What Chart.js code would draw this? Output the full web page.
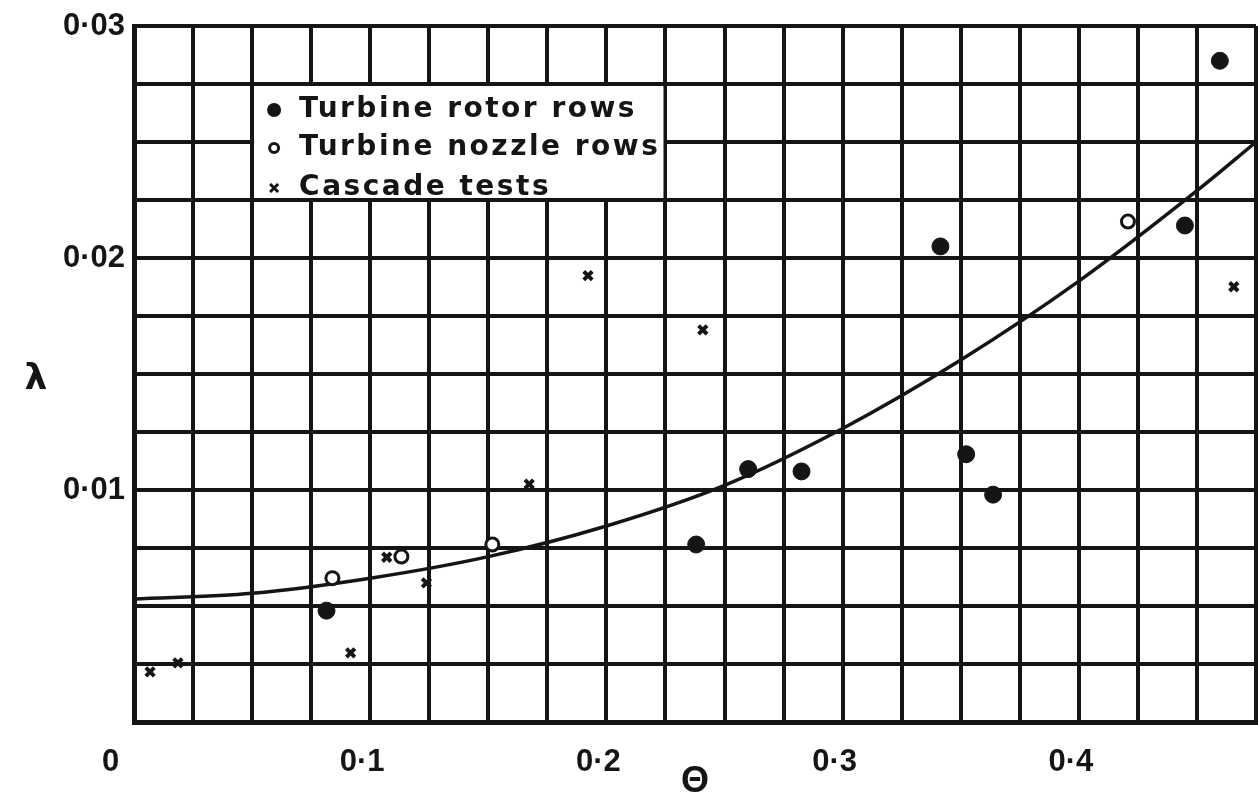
<!DOCTYPE html>
<html>
<head>
<meta charset="utf-8">
<script src="https://cdn.jsdelivr.net/npm/chart.js@4.4.0/dist/chart.umd.min.js"></script>
<style>
    html, body { margin: 0; padding: 0; background: #fff; overflow: hidden; }
    /* a bit wider than the window: chart.js keeps point-radius room on the right */
    #wrap { width: 1266px; height: 799px; position: relative; }
</style>
</head>
<body>
<div id="wrap"><canvas id="myChart"></canvas></div>
<script>
// values
const rotorTheta = [0.0815, 0.238, 0.260, 0.2826, 0.3414, 0.3523, 0.3637, 0.4449, 0.4597];
const rotorLambda = [0.0048, 0.00765, 0.0109, 0.0108, 0.0205, 0.01154, 0.0098, 0.0214, 0.0285];

const nozzleTheta = [0.084, 0.1132, 0.1517, 0.4208];
const nozzleLambda = [0.0062, 0.00713, 0.00765, 0.02157];

const cascadeTheta = [0.0068, 0.0186, 0.0917, 0.107, 0.1238, 0.1673, 0.1922, 0.2408, 0.4656];
const cascadeLambda = [0.00216, 0.00255, 0.00298, 0.0071, 0.0060, 0.01025, 0.01924, 0.0169, 0.01876];

const curveTheta = [0, 0.05, 0.1, 0.15, 0.2, 0.25, 0.3, 0.35, 0.4, 0.45, 0.475];
const curveLambda = [0.0053, 0.00555, 0.0062, 0.00713, 0.00845, 0.0102, 0.01265, 0.0156, 0.0190, 0.0229, 0.0250];

const xLabelValues = [0, 0.1, 0.2, 0.3, 0.4];
const xLabelText = ['0', '0·1', '0·2', '0·3', '0·4'];
const yLabelValues = [0.01, 0.02, 0.03];
const yLabelText = ['0·01', '0·02', '0·03'];

const seriesNames = ['Turbine rotor rows', 'Turbine nozzle rows', 'Cascade tests'];

const ink = '#151515';

function toPoints(xs, ys) {
    return xs.map((x, i) => ({ x: x, y: ys[i] }));
}

function findLabel(v, values, texts) {
    for (let i = 0; i < values.length; i++) {
        if (Math.abs(v - values[i]) < 1e-6) return texts[i];
    }
    return '';
}

// white legend box sitting on the grid
const legendBox = {
    id: 'legendBox',
    beforeDatasetsDraw(chart) {
        const ctx = chart.ctx;
        const xs = chart.scales.x;
        const ys = chart.scales.y;
        let l = xs.getPixelForValue(0.05) + 2;
        let r = xs.getPixelForValue(0.225) - 2;
        let t = ys.getPixelForValue(0.0275) + 2;
        let b = ys.getPixelForValue(0.0225) - 2;

        ctx.save();
        ctx.fillStyle = '#fff';
        ctx.fillRect(l, t, r - l, b - t);

        ctx.font = 'bold 28px "DejaVu Sans"';
        ctx.letterSpacing = '2.5px';
        ctx.fillStyle = ink;
        ctx.strokeStyle = ink;
        ctx.textBaseline = 'middle';
        ctx.textAlign = 'left';

        let rowY = [t + 24, t + 62, t + 102];
        let mx = l + 20;

        // filled dot
        ctx.beginPath();
        ctx.arc(mx, rowY[0], 7, 0, Math.PI * 2);
        ctx.fill();
        // open dot
        ctx.lineWidth = 3;
        ctx.beginPath();
        ctx.arc(mx, rowY[1], 4.5, 0, Math.PI * 2);
        ctx.stroke();
        // cross
        ctx.beginPath();
        ctx.moveTo(mx - 4, rowY[2] - 4);
        ctx.lineTo(mx + 4, rowY[2] + 4);
        ctx.moveTo(mx + 4, rowY[2] - 4);
        ctx.lineTo(mx - 4, rowY[2] + 4);
        ctx.stroke();

        for (let i = 0; i < seriesNames.length; i++) {
            ctx.fillText(seriesNames[i], l + 45, rowY[i]);
        }
        ctx.restore();
    },
    afterDraw(chart) {
        // upright lambda, the library would rotate the y title
        const ctx = chart.ctx;
        const ys = chart.scales.y;
        ctx.save();
        ctx.font = 'bold 36px "DejaVu Sans"';
        ctx.fillStyle = ink;
        ctx.textAlign = 'center';
        ctx.textBaseline = 'middle';
        ctx.fillText('λ', ys.left + 36, (ys.top + ys.bottom) / 2 + 6);
        ctx.restore();
    }
};

const ctx = document.getElementById('myChart');

const lambdaChart = new Chart(ctx, {
    type: 'scatter',
    data: {
        datasets: [
            {
                label: seriesNames[0],
                data: toPoints(rotorTheta, rotorLambda),
                pointStyle: 'circle',
                pointRadius: 8.5,
                backgroundColor: ink,
                borderColor: ink,
                borderWidth: 1
            },
            {
                label: seriesNames[1],
                data: toPoints(nozzleTheta, nozzleLambda),
                pointStyle: 'circle',
                pointRadius: 6.5,
                backgroundColor: '#fff',
                borderColor: ink,
                borderWidth: 3
            },
            {
                label: seriesNames[2],
                data: toPoints(cascadeTheta, cascadeLambda),
                pointStyle: 'crossRot',
                pointRadius: 6,
                borderColor: ink,
                borderWidth: 4
            },
            {
                label: 'curve',
                data: toPoints(curveTheta, curveLambda),
                showLine: true,
                cubicInterpolationMode: 'monotone',
                pointRadius: 0,
                borderColor: ink,
                borderWidth: 3.5,
                fill: false
            }
        ]
    },
    options: {
        responsive: true,
        maintainAspectRatio: false,
        animation: false,
        layout: {
            padding: { top: 26, right: 0, left: 0, bottom: 0 }
        },
        scales: {
            x: {
                type: 'linear',
                min: 0,
                max: 0.475,
                afterFit: function (scale) {
                    scale.height = 77;
                    scale.paddingLeft = 0;
                    scale.paddingRight = 0;
                },
                grid: {
                    color: ink,
                    lineWidth: 4,
                    drawTicks: false
                },
                border: { display: true, color: ink, width: 5 },
                ticks: {
                    stepSize: 0.025,
                    autoSkip: false,
                    maxRotation: 0,
                    padding: 22,
                    labelOffset: -8,
                    color: ink,
                    font: { family: '"Liberation Sans"', weight: 'bold', size: 31 },
                    callback: function (value) {
                        let t = findLabel(value, xLabelValues, xLabelText);
                        if (t === '0') return '0\u2003';
                        return t;
                    }
                },
                title: {
                    display: true,
                    text: 'Θ',
                    color: ink,
                    font: { family: '"Liberation Sans"', weight: 'bold', size: 36, lineHeight: 1 },
                    padding: { top: 0, bottom: -1 }
                }
            },
            y: {
                type: 'linear',
                min: 0,
                max: 0.03,
                afterFit: function (scale) {
                    scale.width = 134;
                    scale.paddingTop = 0;
                    scale.paddingBottom = 0;
                },
                grid: {
                    color: ink,
                    lineWidth: 4,
                    drawTicks: false
                },
                border: { display: true, color: ink, width: 5 },
                ticks: {
                    stepSize: 0.0025,
                    autoSkip: false,
                    padding: 9,
                    color: ink,
                    font: { family: '"Liberation Sans"', weight: 'bold', size: 31 },
                    callback: function (value) {
                        return findLabel(value, yLabelValues, yLabelText);
                    }
                }
            }
        },
        plugins: {
            legend: { display: false },
            tooltip: { enabled: false }
        }
    },
    plugins: [legendBox]
});
</script>
</body>
</html>
